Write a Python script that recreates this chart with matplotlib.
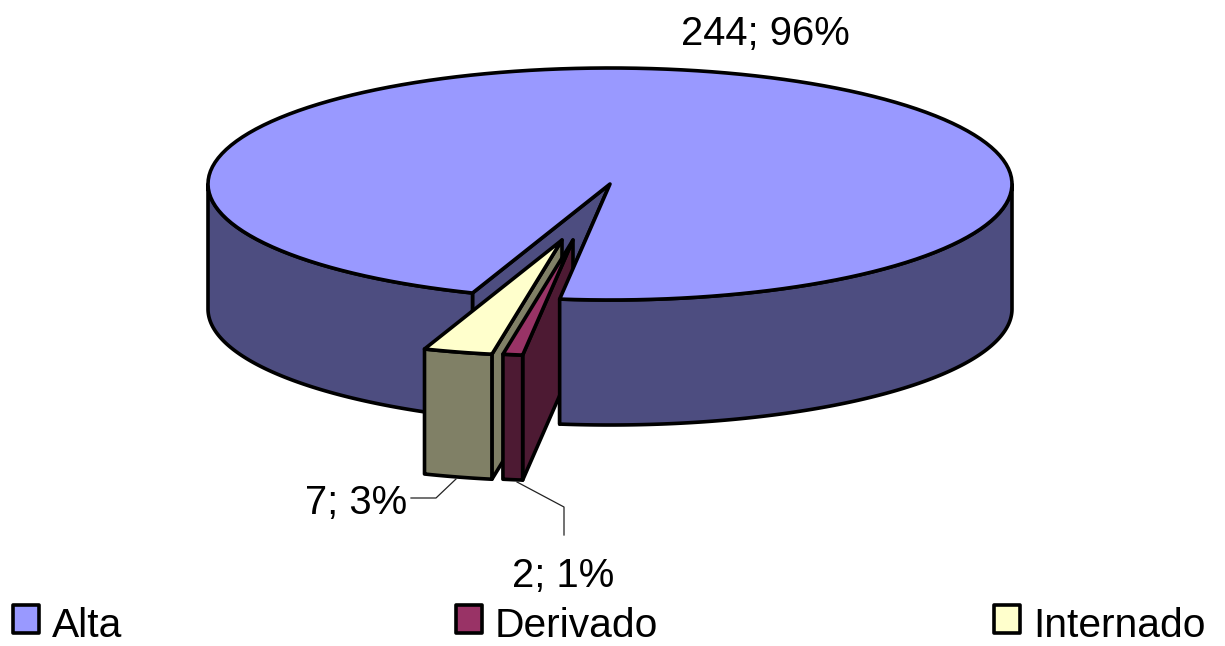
import numpy as np
import matplotlib
matplotlib.use("Agg")
import matplotlib.pyplot as plt
from matplotlib.patches import Polygon, Rectangle

categories = ["Alta", "Derivado", "Internado"]
values = [244, 2, 7]
percents = [96, 1, 3]
top_colors = ["#9999FF", "#993366", "#FFFFCC"]
side_colors = ["#4D4D80", "#4D1A33", "#808066"]

plt.rcParams["font.family"] = ["Liberation Sans", "DejaVu Sans"]
fig = plt.figure(figsize=(12.25, 6.46), dpi=100)
ax = fig.add_axes([0, 0, 1, 1])
ax.set_xlim(0, 1225)
ax.set_ylim(646, 0)
ax.axis("off")

CX, CY, RX, RY, DEPTH = 610, 184, 402, 116, 125
START = -20.0
LW = 2.6
FS = 28.8
FS_LEGEND = 29.3


def pt(t, dx=0, dy=0, down=0):
    a = np.radians(t)
    return (CX + RX * np.sin(a) + dx, CY + RY * np.cos(a) + dy + down)


def arc(t0, t1, dx=0, dy=0, down=0):
    ts = np.linspace(t0, t1, 160)
    return [pt(t, dx, dy, down) for t in ts]


def poly(points, color, z):
    ax.add_patch(Polygon(points, closed=True, facecolor=color, edgecolor="black",
                         linewidth=LW, joinstyle="round", zorder=z))


def outer_wall(t0, t1, color, z, dx=0, dy=0):
    poly(arc(t0, t1, dx, dy) + arc(t1, t0, dx, dy, DEPTH), color, z)


def cut_face(t, color, z, dx=0, dy=0):
    apex = (CX + dx, CY + dy)
    rim = pt(t, dx, dy)
    poly([apex, rim, (rim[0], rim[1] + DEPTH), (apex[0], apex[1] + DEPTH)], color, z)


total = sum(values)
spans = [360 * v / total for v in values]
alta_t0, alta_t1 = START, START - spans[0]
der_t0, der_t1 = alta_t1 + 360, alta_t1 + 360 - spans[1]
int_t0, int_t1 = der_t1, der_t1 - spans[2]

# Alta: cut faces and left wall lie behind the pulled-out slices
cut_face(alta_t0, side_colors[0], 1)
cut_face(der_t0, side_colors[0], 1)
outer_wall(alta_t0, -90, side_colors[0], 2)

# Internado (pulled out)
idx, idy = -48, 56
cut_face(int_t0, side_colors[2], 3, idx, idy)
outer_wall(int_t0, int_t1, side_colors[2], 4, idx, idy)
poly([(CX + idx, CY + idy)] + arc(int_t0, int_t1, idx, idy), top_colors[2], 5)

# Derivado (pulled out)
ddx, ddy = -37, 56
cut_face(der_t0, side_colors[1], 6, ddx, ddy)
outer_wall(der_t0, der_t1, side_colors[1], 7, ddx, ddy)
poly([(CX + ddx, CY + ddy)] + arc(der_t0, der_t1, ddx, ddy), top_colors[1], 8)

# Alta: right wall and top overlap the Derivado cut face
outer_wall(der_t0, 90, side_colors[0], 9)
poly([(CX, CY)] + arc(alta_t0, alta_t1), top_colors[0], 10)

# Data labels and leader lines
ax.plot([411, 436, 456], [498, 498, 479], color="#222222", lw=0.9, zorder=11)
ax.plot([517, 564, 564], [482, 507, 535], color="#222222", lw=0.9, zorder=11)
label_xy = [(765, 45), (563, 587), (356, 514)]
for v, p, (x, y) in zip(values, percents, label_xy):
    ax.text(x, y, f"{v}; {p}%", fontsize=FS, ha="center", va="baseline", color="black")

# Legend
box_x = [13, 456, 994]
text_x = [52, 495, 1033]
for name, color, bx, tx in zip(categories, top_colors, box_x, text_x):
    ax.add_patch(Rectangle((bx, 605), 26, 28, facecolor=color, edgecolor="black",
                           linewidth=LW, joinstyle="round"))
    ax.text(tx, 637, name, fontsize=FS_LEGEND, ha="left", va="baseline", color="black")

fig.savefig("out.png", dpi=100)
